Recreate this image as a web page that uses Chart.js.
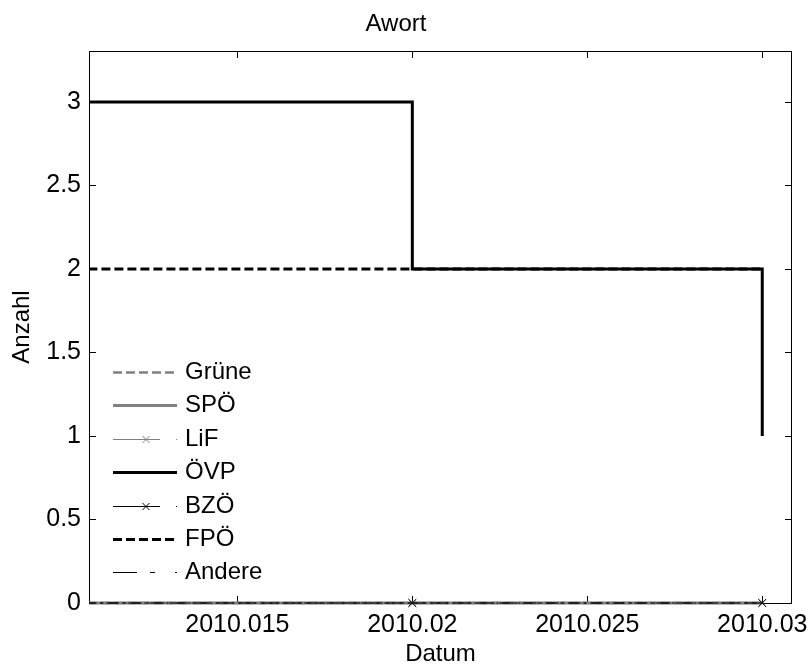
<!DOCTYPE html>
<html>
<head>
<meta charset="utf-8">
<script src="https://cdn.jsdelivr.net/npm/chart.js@4.4.0/dist/chart.umd.min.js"></script>
<style>
html, body { margin: 0; padding: 0; background: #fff; }
</style>
</head>
<body>
<canvas id="awortChart" width="810" height="666"></canvas>
<script>
// Awort - Anzahl je Partei (stairs)

// x positions of the steps (Datum)
const dates = [2010.0100, 2010.02, 2010.03];
// values per party
const gruene = [0, 0, 0];
const spoe = [0, 0, 0];
const lif = [0, 0, 0];
const oevp = [3, 2, 1];
const bzoe = [0, 0, 0];
const fpoe = [2, 2, 2];
const andere = [0, 0, 0];
const partyNames = ['Grüne', 'SPÖ', 'LiF', 'ÖVP', 'BZÖ', 'FPÖ', 'Andere'];
const partyValues = [gruene, spoe, lif, oevp, bzoe, fpoe, andere];

// tick labels
const xTicks = [2010.015, 2010.02, 2010.025, 2010.03];
const yTicks = [0, 0.5, 1, 1.5, 2, 2.5, 3];
const xMin = 2010.01076, xMax = 2010.03085;
const yMin = 0, yMax = 3.305;

// line styles (plot dash, legend dash)
const GREY = '#808080';
const styles = [
    { color: GREY, width: 2.5, dash: [9, 4], legendDash: [9, 4], marker: false },
    { color: GREY, width: 3, dash: [], legendDash: [], marker: false },
    { color: GREY, width: 1, dash: [12, 4, 2, 4], legendDash: [47, 16, 3, 100], marker: true },
    { color: '#000', width: 3, dash: [], legendDash: [], marker: false },
    { color: '#000', width: 1, dash: [12, 4, 2, 4], legendDash: [47, 16, 3, 100], marker: true },
    { color: '#000', width: 3, dash: [9, 4], legendDash: [9, 4], marker: false },
    { color: '#000', width: 1, dash: [10, 5, 3, 5], legendDash: [24, 13, 5, 20, 3, 100], marker: false },
];

const FONT = "'Liberation Sans', Arial, Helvetica, sans-serif";
Chart.defaults.font.family = FONT;
Chart.defaults.font.size = 24;
Chart.defaults.color = '#000';

const datasets = partyNames.map((name, i) => ({
    label: name,
    data: dates.map((d, j) => ({ x: d, y: partyValues[i][j] })),
    stepped: 'before',
    borderColor: styles[i].color,
    backgroundColor: styles[i].color,
    borderWidth: styles[i].width,
    borderDash: styles[i].dash,
    pointStyle: 'crossRot',
    pointRadius: styles[i].marker ? 5.5 : 0,
    pointBorderWidth: 1,
    pointBorderColor: styles[i].color,
    fill: false,
    order: partyNames.length - i, // later series on top, like the original
    clip: { left: 0, top: false, right: false, bottom: false },
}));

// axes box and inward ticks, drawn below the lines
const axesBox = {
    id: 'axesBox',
    beforeDatasetsDraw(chart) {
        const ctx = chart.ctx;
        const area = chart.chartArea;
        const xs = chart.scales.x, ys = chart.scales.y;
        const tick = 7;
        ctx.save();
        ctx.strokeStyle = '#000';
        ctx.lineWidth = 1;
        ctx.setLineDash([]);
        ctx.strokeRect(area.left + 0.5, area.top + 0.5, area.right - area.left - 1, area.bottom - area.top);
        ctx.beginPath();
        xTicks.forEach(v => {
            const px = Math.round(xs.getPixelForValue(v)) + 0.5;
            ctx.moveTo(px, area.bottom); ctx.lineTo(px, area.bottom - tick);
            ctx.moveTo(px, area.top); ctx.lineTo(px, area.top + tick);
        });
        yTicks.forEach(v => {
            const py = Math.round(ys.getPixelForValue(v)) + 0.5;
            ctx.moveTo(area.left, py); ctx.lineTo(area.left + tick, py);
            ctx.moveTo(area.right, py); ctx.lineTo(area.right - tick, py);
        });
        ctx.stroke();
        ctx.restore();
    }
};

// legend without frame, inside the axes
const lineLegend = {
    id: 'lineLegend',
    afterDraw(chart) {
        const ctx = chart.ctx;
        const area = chart.chartArea;
        const lx0 = area.left + 24, lx1 = area.left + 88, tx = area.left + 96;
        const ly0 = 372, dy = 33.4;
        ctx.save();
        ctx.font = '24px ' + FONT;
        ctx.textBaseline = 'middle';
        ctx.textAlign = 'left';
        chart.data.datasets.forEach((ds, i) => {
            const y = Math.round(ly0 + i * dy) + 0.5;
            ctx.strokeStyle = ds.borderColor;
            ctx.lineWidth = ds.borderWidth;
            ctx.setLineDash(styles[i].legendDash);
            ctx.beginPath();
            ctx.moveTo(lx0, y); ctx.lineTo(lx1, y);
            ctx.stroke();
            if (styles[i].marker) {
                const mx = area.left + 57, r = 3.5;
                ctx.setLineDash([]);
                ctx.lineWidth = 1;
                ctx.beginPath();
                ctx.moveTo(mx - r, y - r); ctx.lineTo(mx + r, y + r);
                ctx.moveTo(mx - r, y + r); ctx.lineTo(mx + r, y - r);
                ctx.stroke();
            }
            ctx.fillStyle = '#000';
            ctx.fillText(ds.label, tx, y);
        });
        ctx.restore();
    }
};

const ctxAwort = document.getElementById('awortChart').getContext('2d');
const awortChart = new Chart(ctxAwort, {
    type: 'line',
    data: { datasets: datasets },
    plugins: [axesBox, lineLegend],
    options: {
        responsive: false,
        animation: false,
        devicePixelRatio: 1,
        layout: { padding: { left: 0, right: 18, top: 0, bottom: 0 } },
        plugins: {
            legend: { display: false },
            tooltip: { enabled: false },
            title: {
                display: true,
                text: 'Awort',
                color: '#000',
                font: { size: 24, weight: 'normal', lineHeight: 1 },
                padding: { top: 12, bottom: 15 }
            }
        },
        scales: {
            x: {
                type: 'linear',
                min: xMin,
                max: xMax,
                grid: { display: false, drawTicks: false },
                border: { display: false },
                ticks: {
                    stepSize: 0.005,
                    includeBounds: false,
                    maxRotation: 0,
                    autoSkip: false,
                    padding: 7,
                    color: '#000',
                    font: { size: 25 },
                    callback: v => String(+Number(v).toFixed(3))
                },
                title: {
                    display: true,
                    text: 'Datum',
                    color: '#000',
                    font: { size: 24, lineHeight: 1 },
                    padding: { top: 0, bottom: 0 }
                },
                afterFit: scale => {
                    scale.height = 63;
                    scale.paddingLeft = 0;
                    scale.paddingRight = 0;
                }
            },
            y: {
                min: yMin,
                max: yMax,
                grid: { display: false, drawTicks: false },
                border: { display: false },
                ticks: {
                    stepSize: 0.5,
                    includeBounds: false,
                    padding: 8,
                    color: '#000',
                    font: { size: 25 },
                    callback: v => String(v)
                },
                title: {
                    display: true,
                    text: 'Anzahl',
                    color: '#000',
                    font: { size: 24, lineHeight: 1 },
                    padding: { top: 10, bottom: 0 }
                },
                afterFit: scale => {
                    scale.width = 89;
                    scale.paddingTop = 0;
                    scale.paddingBottom = 0;
                }
            }
        }
    }
});
</script>
</body>
</html>
